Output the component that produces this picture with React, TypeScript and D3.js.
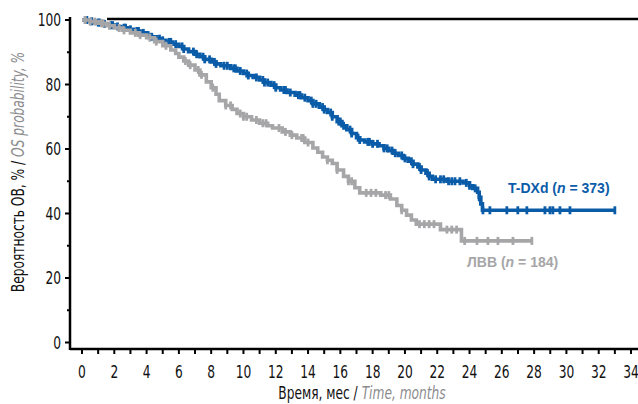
import * as d3 from "d3";

// Kaplan–Meier steps: time (months) and survival (%)
const tdxdTime = [0, 0.4, 0.8, 1.2, 1.6, 2.0, 2.4, 2.8, 3.2, 3.6, 4, 4.3, 4.6, 4.9, 5.2, 5.6, 6, 6.3, 6.6, 7, 7.3, 7.6, 8, 8.3, 8.6, 9.2, 9.6, 10, 10.3, 10.6, 11, 11.3, 11.7, 12, 12.3, 12.7, 13.2, 13.6, 14, 14.3, 14.7, 15, 15.2, 15.5, 15.8, 16.1, 16.4, 16.7, 17, 17.2, 17.5, 18, 18.4, 18.7, 19, 19.3, 19.6, 19.9, 20.2, 20.5, 20.8, 21, 21.3, 21.5, 21.7, 22.6, 23.6, 24, 24.2, 24.5, 24.6, 24.7, 24.8];
const tdxdSurv = [100, 99.6, 99.2, 98.8, 98.4, 98, 97.6, 97.1, 96.6, 96, 95.3, 94.8, 94.2, 93.7, 93.2, 92.5, 91.8, 91, 90.2, 89.4, 88.6, 87.8, 87, 86.4, 85.8, 85, 84.2, 83.4, 82.8, 82.2, 81.4, 80.6, 79.8, 79, 78.3, 77.5, 76.7, 75.9, 75, 74, 73, 72.2, 71.3, 70, 68.5, 67.2, 66, 64.8, 63.5, 62.8, 62.2, 61.6, 61, 60.2, 59.5, 58.7, 58, 57.1, 56.2, 55.3, 54.4, 53.5, 52.5, 51.5, 50.6, 50, 49.5, 48.6, 47.8, 46.6, 45, 43, 41];
const tdxdEnd = 33.0;
const tdxdCensor = [0.2, 0.3, 0.6, 1.0, 1.1, 1.4, 1.8, 1.9, 2.2, 2.6, 2.7, 3.0, 3.4, 3.5, 3.8, 4.1, 4.3, 4.8, 5.0, 5.4, 5.5, 5.8, 6.2, 6.3, 6.9, 7.1, 7.5, 7.6, 7.9, 8.2, 8.3, 8.8, 9.0, 9.4, 9.5, 9.8, 10.2, 10.3, 10.8, 11.2, 11.3, 11.5, 11.9, 12.0, 12.5, 12.6, 12.9, 13.4, 13.5, 13.8, 14.2, 14.3, 14.5, 14.9, 15.0, 15.4, 15.5, 15.9, 16.0, 16.2, 16.6, 16.7, 17.1, 17.2, 17.7, 17.8, 18.0, 18.3, 18.7, 18.9, 19.2, 19.4, 19.8, 20.0, 20.4, 20.5, 20.9, 21.0, 21.4, 21.5, 21.9, 22.2, 22.4, 22.7, 22.9, 23.1, 23.4, 23.8, 24.0, 24.35, 24.6, 24.83, 25.26, 26.31, 26.99, 27.55, 28.67, 28.98, 29.16, 29.6, 30.22, 33.0];

const lvvTime = [0, 0.5, 1, 1.5, 2, 2.5, 3, 3.5, 4, 4.5, 5, 5.5, 5.8, 6, 6.3, 6.6, 7, 7.3, 7.7, 8, 8.3, 8.5, 8.9, 9.3, 9.6, 10, 10.5, 11, 11.5, 11.8, 12.4, 12.9, 13.3, 13.8, 14.3, 14.6, 14.9, 15.2, 15.5, 15.8, 16.2, 16.5, 16.9, 17.2, 18.5, 19.1, 19.5, 19.8, 20.1, 20.4, 20.7, 22.2, 23.5];
const lvvSurv = [100, 99.5, 99, 98.2, 97.5, 96.8, 96, 95.3, 94.5, 93.3, 92, 90.7, 89.6, 88.5, 87.3, 86, 84.5, 83, 80.8, 79, 77, 75, 73.5, 72.3, 71, 70, 69, 68, 67.2, 66.5, 65.3, 64.3, 63.4, 62, 60.3, 59, 57.5, 56.5, 55.5, 53.5, 51.5, 50, 48, 46.4, 45.7, 44.5, 42.5, 41, 39.5, 38, 36.7, 35, 31.5];
const lvvEnd = 27.86;
const lvvCensor = [0.2, 0.5, 0.8, 1.2, 1.3, 1.7, 2.3, 2.6, 3.3, 3.6, 4.2, 4.6, 5.2, 6.4, 6.7, 7.2, 7.4, 8.1, 8.9, 9.2, 9.8, 10.0, 10.2, 10.8, 11.2, 11.4, 12.2, 12.6, 13.0, 13.6, 13.7, 14.0, 15.2, 15.8, 16.5, 16.7, 17.6, 17.9, 18.2, 18.8, 19.0, 19.8, 20.9, 21.2, 21.5, 21.8, 22.6, 22.9, 23.2, 23.7, 24.46, 25.14, 25.76, 26.69, 27.86];

const xTickLabels = [0, 2, 4, 6, 8, 10, 12, 14, 16, 18, 20, 22, 24, 26, 28, 30, 32, 34];
const xMinorTicks = [1, 3, 5, 7, 9, 11, 13, 15, 17, 19, 21, 23, 25, 27, 29, 31, 33];
const yTickLabels = [0, 20, 40, 60, 80, 100];
const yMinorTicks = [10, 30, 50, 70, 90];

const BLUE = "#0b5ca8";
const GRAY = "#a6a6a8";
const NARROW = "'DejaVu Sans Condensed', 'Liberation Sans Narrow', 'Roboto Condensed', sans-serif";
const SANS = "'Liberation Sans', Arial, sans-serif";

function survAt(times: number[], surv: number[], t: number) {
  let v = surv[0];
  for (let i = 0; i < times.length; i++) {
    if (times[i] <= t) v = surv[i];
  }
  return v;
}

// condensed text: squeeze horizontally around its own anchor
function Narrow({ x, y, anchor = "middle", size = 15, children, rotate = 0 }: any) {
  return (
    <text
      transform={`translate(${x}, ${y}) rotate(${rotate}) scale(0.8, 1)`}
      textAnchor={anchor}
      fontFamily={NARROW}
      fontSize={size}
      fill="#111"
    >
      {children}
    </text>
  );
}

export default function App() {
  const width = 638;
  const height = 404;
  const x = d3.scaleLinear().domain([0, 34]).range([82, 631]);
  const y = d3.scaleLinear().domain([0, 100]).range([342.5, 20]);
  const axisX = 70;
  const axisY = 349;

  const line = d3
    .line<[number, number]>()
    .x((d) => x(d[0]))
    .y((d) => y(d[1]))
    .curve(d3.curveStepAfter);

  const series = [
    { times: tdxdTime, surv: tdxdSurv, end: tdxdEnd, censor: tdxdCensor, color: BLUE },
    { times: lvvTime, surv: lvvSurv, end: lvvEnd, censor: lvvCensor, color: GRAY },
  ];

  return (
    <svg
      width={width}
      height={height}
      style={{ position: "absolute", left: 0, top: 0, background: "#fff" }}
    >
      {/* top reference line */}
      <line x1={x(1.55)} x2={width} y1={y(100) - 1} y2={y(100) - 1} stroke="#000" strokeWidth={2.5} />

      {series.map((s, i) => {
        const pts: [number, number][] = s.times.map((t, k) => [t, s.surv[k]]);
        pts.push([s.end, s.surv[s.surv.length - 1]]);
        return (
          <g key={i}>
            <path d={line(pts) ?? ""} fill="none" stroke={s.color} strokeWidth={3.6} />
            {s.censor.map((t, k) => {
              const cy = y(survAt(s.times, s.surv, t));
              return (
                <line
                  key={k}
                  x1={x(t)}
                  x2={x(t)}
                  y1={cy - 4}
                  y2={cy + 4}
                  stroke={s.color}
                  strokeWidth={2.8}
                />
              );
            })}
          </g>
        );
      })}

      {/* axes */}
      <line x1={axisX} x2={axisX} y1={17} y2={axisY + 1} stroke="#000" strokeWidth={2.5} />
      <line x1={axisX} x2={width} y1={axisY} y2={axisY} stroke="#000" strokeWidth={2.5} />

      {yTickLabels.map((v) => (
        <g key={v}>
          <line x1={axisX - 5} x2={axisX} y1={y(v)} y2={y(v)} stroke="#000" strokeWidth={2} />
          <Narrow x={axisX - 9} y={y(v) + 6} anchor="end" size={17}>
            {v}
          </Narrow>
        </g>
      ))}
      {yMinorTicks.map((v) => (
        <line key={v} x1={axisX - 3} x2={axisX} y1={y(v)} y2={y(v)} stroke="#000" strokeWidth={2} />
      ))}

      {[...xTickLabels, ...xMinorTicks].map((t) => (
        <line key={t} x1={x(t)} x2={x(t)} y1={axisY} y2={axisY + 5} stroke="#000" strokeWidth={2} />
      ))}
      {xTickLabels.map((t) => (
        <Narrow key={t} x={x(t)} y={axisY + 29} size={17}>
          {t}
        </Narrow>
      ))}

      {/* axis titles */}
      <Narrow x={362} y={399} size={17}>
        Время, мес /{" "}
        <tspan fill="#8c8c8e" fontStyle="italic">
          Time, months
        </tspan>
      </Narrow>
      <Narrow x={24} y={172} size={17} rotate={-90}>
        Вероятность ОВ, % /{" "}
        <tspan fill="#8c8c8e" fontStyle="italic">
          OS probability, %
        </tspan>
      </Narrow>

      {/* series labels */}
      <text x={508} y={193} fontFamily={SANS} fontSize={14} fontWeight="bold" fill={BLUE}>
        T-DXd (<tspan fontStyle="italic">n</tspan> = 373)
      </text>
      <text x={467} y={267} fontFamily={SANS} fontSize={14} fontWeight="bold" fill={GRAY}>
        ЛВВ (<tspan fontStyle="italic">n</tspan> = 184)
      </text>
    </svg>
  );
}
